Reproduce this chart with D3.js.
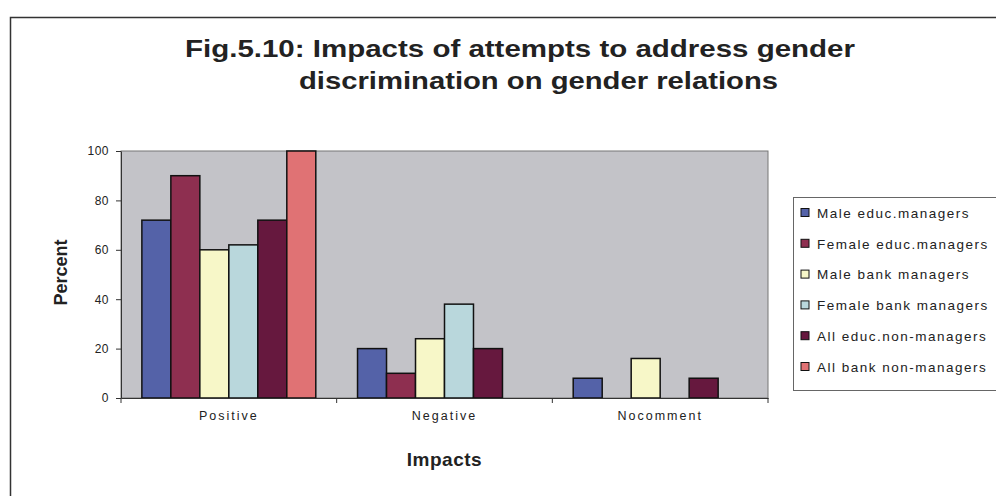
<!DOCTYPE html>
<html>
<head>
<meta charset="utf-8">
<script src="https://cdn.jsdelivr.net/npm/d3@7"></script>
<style>
  body { margin: 0; background: #fff; }
  svg { display: block; font-family: "Liberation Sans", Arial, sans-serif; }
</style>
</head>
<body>
<svg id="chart" width="996" height="496"></svg>
<script>
const categories = ["Positive", "Negative", "Nocomment"];
const seriesNames = [
  "Male educ.managers",
  "Female educ.managers",
  "Male bank managers",
  "Female bank managers",
  "All educ.non-managers",
  "All bank non-managers"
];
// values per series, in category order
const maleEduc = [72, 20, 8];
const femaleEduc = [90, 10, 0];
const maleBank = [60, 24, 16];
const femaleBank = [62, 38, 0];
const allEducNon = [72, 20, 8];
const allBankNon = [100, 0, 0];
const yTicks = [0, 20, 40, 60, 80, 100];
const colors = ["#5462a8", "#8e2f50", "#f7f7c8", "#b9d7dc", "#66183e", "#e07274"];

const series = [maleEduc, femaleEduc, maleBank, femaleBank, allEducNon, allBankNon];

const svg = d3.select("#chart");

// outer frame (open at right and bottom, like the cropped original)
svg.append("path")
  .attr("d", "M10.5,496 L10.5,17.5 L996,17.5")
  .attr("fill", "none")
  .attr("stroke", "#333")
  .attr("stroke-width", 1.5);

// title (scan is stretched sideways, so stretch glyphs too)
svg.append("text")
  .attr("x", 185).attr("y", 57)
  .attr("textLength", 670).attr("lengthAdjust", "spacingAndGlyphs")
  .style("font-size", "24px").style("font-weight", "bold")
  .attr("fill", "#222")
  .text("Fig.5.10: Impacts of attempts to address gender");
svg.append("text")
  .attr("x", 299).attr("y", 89)
  .attr("textLength", 479).attr("lengthAdjust", "spacingAndGlyphs")
  .style("font-size", "24px").style("font-weight", "bold")
  .attr("fill", "#222")
  .text("discrimination on gender relations");

const plot = { left: 121, top: 151, right: 768, bottom: 398 };

const x0 = d3.scaleBand()
  .domain(categories)
  .range([plot.left, plot.right])
  .paddingInner(0)
  .paddingOuter(0);

const x1 = d3.scaleBand()
  .domain(seriesNames)
  .range([0, x0.bandwidth()])
  .paddingOuter(0.72)
  .paddingInner(0);

const y = d3.scaleLinear()
  .domain([0, 100])
  .range([plot.bottom, plot.top]);

// plot area background
svg.append("rect")
  .attr("x", plot.left).attr("y", plot.top)
  .attr("width", plot.right - plot.left)
  .attr("height", plot.bottom - plot.top)
  .attr("fill", "#c3c3c8")
  .attr("stroke", "#777")
  .attr("stroke-width", 1);

// bars
const groups = svg.append("g").selectAll("g")
  .data(categories)
  .join("g")
  .attr("transform", d => `translate(${x0(d)},0)`);

groups.selectAll("rect")
  .data((c, ci) => seriesNames.map((s, si) => ({ s, si, v: series[si][ci] })).filter(d => d.v > 0))
  .join("rect")
  .attr("x", d => x1(d.s))
  .attr("y", d => y(d.v))
  .attr("width", x1.bandwidth())
  .attr("height", d => y(0) - y(d.v))
  .attr("fill", d => colors[d.si])
  .attr("stroke", "#111")
  .attr("stroke-width", 1.5);

// y axis
const yAxis = svg.append("g")
  .attr("transform", `translate(${plot.left},0)`)
  .call(d3.axisLeft(y).tickValues(yTicks).tickSize(5).tickSizeOuter(0));
yAxis.select(".domain").attr("stroke", "#333");
yAxis.selectAll(".tick line").attr("stroke", "#333");
yAxis.selectAll(".tick text")
  .attr("x", -12)
  .style("font-size", "12px")
  .style("letter-spacing", "0.5px")
  .attr("fill", "#222");

// x axis
const xAxis = svg.append("g")
  .attr("transform", `translate(0,${plot.bottom})`)
  .call(d3.axisBottom(x0).tickSize(0).tickSizeOuter(0));
xAxis.select(".domain").attr("stroke", "#333");
xAxis.selectAll(".tick text")
  .attr("y", 18)
  .attr("dy", "0.35em")
  .style("font-size", "12.5px")
  .style("letter-spacing", "2px")
  .attr("fill", "#222");
// category separator ticks
svg.append("g").selectAll("line")
  .data(categories.concat([null]))
  .join("line")
  .attr("x1", (d, i) => plot.left + i * x0.step())
  .attr("x2", (d, i) => plot.left + i * x0.step())
  .attr("y1", plot.bottom)
  .attr("y2", plot.bottom + 5)
  .attr("stroke", "#333");

// axis titles
svg.append("text")
  .attr("transform", `translate(67,${(plot.top + plot.bottom) / 2 - 2}) rotate(-90)`)
  .attr("text-anchor", "middle")
  .style("font-size", "18px").style("font-weight", "bold")
  .attr("fill", "#222")
  .text("Percent");

svg.append("text")
  .attr("x", x0("Negative") + x0.bandwidth() / 2)
  .attr("y", 466)
  .attr("text-anchor", "middle")
  .style("font-size", "19px").style("font-weight", "bold")
  .style("letter-spacing", "0.5px")
  .attr("fill", "#222")
  .text("Impacts");

// legend
const legend = svg.append("g").attr("transform", "translate(793,197)");
legend.append("rect")
  .attr("x", 0.5).attr("y", 0.5)
  .attr("width", 220).attr("height", 193)
  .attr("fill", "#fff")
  .attr("stroke", "#666");

const item = legend.selectAll("g.item")
  .data(seriesNames)
  .join("g")
  .attr("class", "item")
  .attr("transform", (d, i) => `translate(0,${16 + i * 30.8})`);

item.append("rect")
  .attr("x", 8).attr("y", -4.5)
  .attr("width", 8).attr("height", 8)
  .attr("fill", (d, i) => colors[i])
  .attr("stroke", "#111")
  .attr("stroke-width", 1);

item.append("text")
  .attr("x", 24).attr("dy", "0.35em")
  .style("font-size", "13.5px")
  .style("letter-spacing", "1.5px")
  .attr("fill", "#222")
  .text(d => d);
</script>
</body>
</html>
